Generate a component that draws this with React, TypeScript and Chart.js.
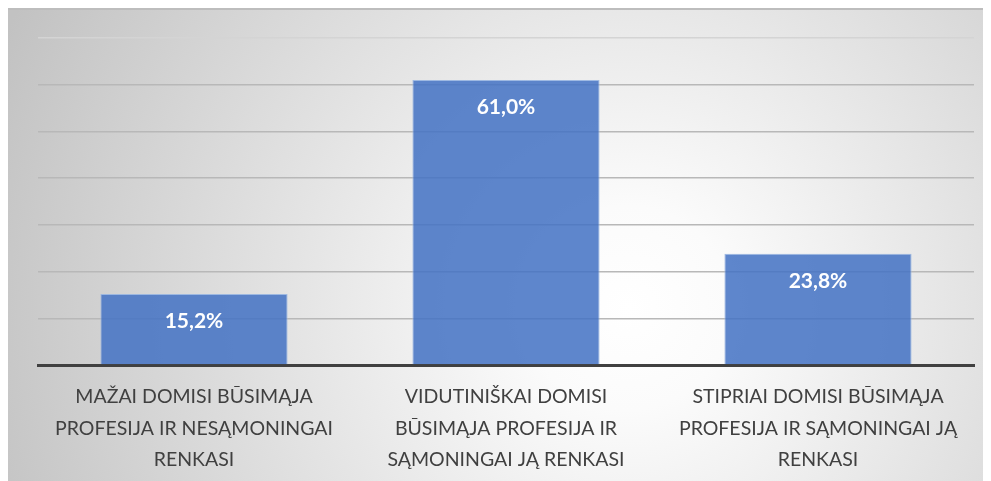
import React, { useEffect, useRef } from "react";
import { Chart, registerables } from "chart.js";

Chart.register(...registerables);

const categories: string[][] = [
  ["MAŽAI DOMISI BŪSIMĄJA", "PROFESIJA IR NESĄMONINGAI", "RENKASI"],
  ["VIDUTINIŠKAI DOMISI", "BŪSIMĄJA PROFESIJA IR", "SĄMONINGAI JĄ RENKASI"],
  ["STIPRIAI DOMISI BŪSIMĄJA", "PROFESIJA IR SĄMONINGAI JĄ", "RENKASI"],
];
const values: number[] = [15.2, 61.0, 23.8];
const yMax = 70;
const yStep = 10;

const bgPlugin = {
  id: "bgPlugin",
  beforeDraw(chart: any) {
    const { ctx, width, height } = chart;
    ctx.save();
    const g = ctx.createRadialGradient(620, 300, 0, 620, 300, 680);
    g.addColorStop(0, "#ffffff");
    g.addColorStop(0.15, "#fbfbfb");
    g.addColorStop(1, "#c2c2c2");
    ctx.fillStyle = g;
    ctx.fillRect(0, 0, width, height);
    ctx.fillStyle = "#bdbdbd";
    ctx.fillRect(0, 0, width, 2);
    ctx.restore();
  },
};

const labelPlugin = {
  id: "labelPlugin",
  afterDatasetsDraw(chart: any) {
    const { ctx } = chart;
    const meta = chart.getDatasetMeta(0);
    ctx.save();
    ctx.fillStyle = "#ffffff";
    ctx.font = "bold 21px Lato";
    ctx.textAlign = "center";
    ctx.textBaseline = "middle";
    meta.data.forEach((bar: any, i: number) => {
      const v = values[i];
      ctx.fillText(v.toFixed(1).replace(".", ",") + "%", bar.x, bar.y + 27);
    });
    ctx.restore();
  },
};

export default function App() {
  const ref = useRef<HTMLCanvasElement | null>(null);
  useEffect(() => {
    if (!ref.current) return;
    const chart = new Chart(ref.current, {
      type: "bar",
      data: {
        labels: categories,
        datasets: [
          {
            data: values,
            backgroundColor: "rgba(68,114,196,0.86)",
            borderColor: "rgba(150,180,225,0.9)",
            borderWidth: 1,
            categoryPercentage: 0.6,
            barPercentage: 1,
          },
        ],
      },
      options: {
        animation: false,
        responsive: false,
        layout: { padding: { left: 30, right: 17, top: 30, bottom: 0 } },
        plugins: {
          legend: { display: false },
          tooltip: { enabled: false },
        },
        scales: {
          x: {
            grid: { display: false },
            border: { display: true, color: "#404040", width: 3 },
            ticks: {
              color: "#404040",
              font: { family: "Lato", size: 19.5, lineHeight: 1.62 },
              padding: 8,
              maxRotation: 0,
              autoSkip: false,
            },
            afterFit(scale: any) {
              scale.height = 116;
            },
          },
          y: {
            min: 0,
            max: yMax,
            ticks: { display: false, stepSize: yStep },
            border: { display: false },
            grid: {
              drawTicks: false,
              lineWidth: 1.5,
              color: (c: any) =>
                c.tick && c.tick.value === 0
                  ? "rgba(0,0,0,0)"
                  : c.tick && c.tick.value === yMax
                  ? "#d4d4d4"
                  : "#b8b8b8",
            },
            afterFit(scale: any) {
              scale.width = 0;
            },
          },
        },
      },
      plugins: [bgPlugin, labelPlugin],
    });
    return () => chart.destroy();
  }, []);
  return <canvas ref={ref} width={983} height={473} style={{ display: "block" }} />;
}
